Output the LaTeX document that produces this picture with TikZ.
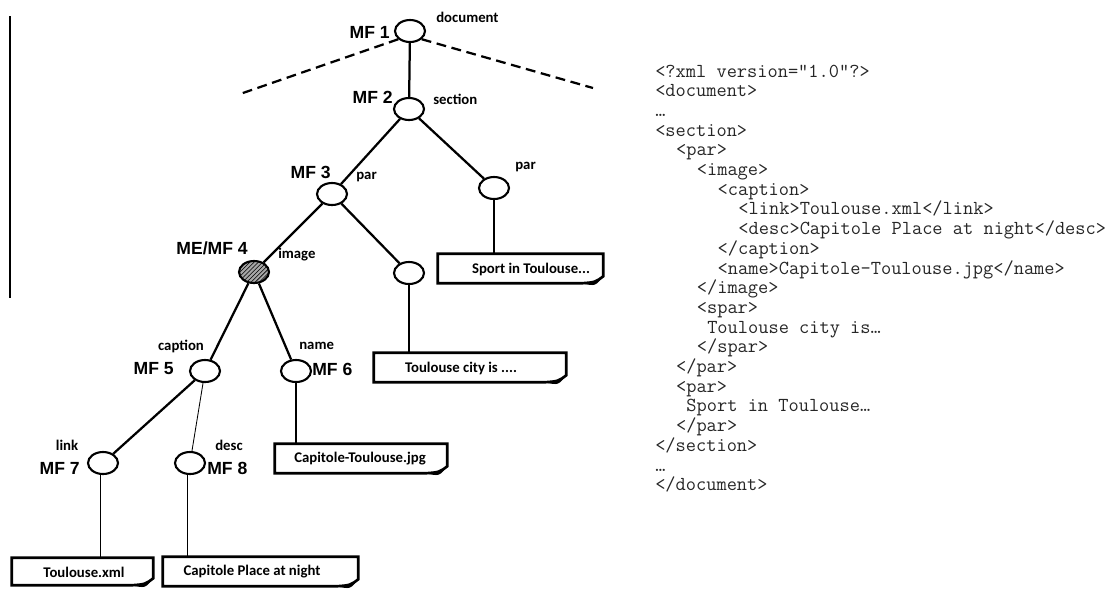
\documentclass[tikz,border=0pt]{standalone}
\usepackage{fontspec}
\newfontfamily\calib{Carlito}
\newfontfamily\arialf{Liberation Sans}
\newfontfamily\limono{Liberation Mono}
\usetikzlibrary{shapes.geometric,patterns,fit}
\begin{document}
\begin{tikzpicture}[x=0.025cm,y=-0.025cm,
  el/.style={ellipse,draw,line width=1.5pt,minimum width=0.75cm,minimum height=0.55cm,inner sep=0},
  mf/.style={font=\arialf\bfseries\fontsize{12.5}{14}\selectfont,inner sep=0},
  lab/.style={font=\calib\bfseries\fontsize{10.5}{12}\selectfont,inner sep=0},
  thk/.style={line width=1.6pt},
  thn/.style={line width=0.6pt},
  boxfit/.style={inner sep=0,draw=none},
  boxline/.style={line width=1.9pt,line join=miter},
  btxt/.style={font=\calib\bfseries\fontsize{10.5}{12}\selectfont,inner sep=0},
  xml/.style={anchor=base west,inner sep=0,font=\ttfamily\fontsize{14.1}{16}\selectfont,text=black!85}
]
\useasboundingbox (0,0) rectangle (1119,588);

% left rule
\coordinate (r1) at (10,16);
\coordinate (r2) at (10,298);
\draw[line width=0.9pt] (r1) -- (r2);

% ellipses
\node[el] (e1) at (410,31) {};
\node[el] (e2) at (409,109) {};
\node[el] (e3) at (332,194) {};
\node[el] (e3r) at (494,188) {};
\node[el,fill=gray!70,postaction={pattern=north east lines}] (e4) at (254,272) {};
\node[el] (e4r) at (409,273) {};
\node[el] (e5) at (205,371) {};
\node[el] (e6) at (296,371) {};
\node[el] (e7) at (103,463) {};
\node[el] (e8) at (190,463) {};

% labels
\node[mf,anchor=east] (m1) at (390,32) {MF 1};
\node[lab,anchor=west] (l1) at (436,17) {document};
\node[mf,anchor=east] (m2) at (393,97) {MF 2};
\node[lab,anchor=west] (l2) at (433,99) {section};
\node[mf,anchor=east] (m3) at (331,172) {MF 3};
\node[lab,anchor=west] (l3) at (356,177) {par};
\node[lab,anchor=west] (l3r) at (515,167) {par};
\node[mf,anchor=east] (m4) at (248,248) {ME/MF 4};
\node[lab,anchor=west] (l4) at (278,255) {image};
\node[lab] (l5) at (181,346) {caption};
\node[mf,anchor=east] (m5) at (174,369) {MF 5};
\node[lab,anchor=west] (l6) at (299,346) {name};
\node[mf,anchor=west] (m6) at (312,369) {MF 6};
\node[lab] (l7) at (67,445) {link};
\node[mf,anchor=east] (m7) at (80,468) {MF 7};
\node[lab] (l8) at (229,445) {desc};
\node[mf,anchor=west] (m8) at (207,468) {MF 8};

% text boxes
\node[boxfit,fit={(438,254) (603,283)}] (bs) {};
\node[boxfit,fit={(374,353) (566,382)}] (bc) {};
\node[boxfit,fit={(275,444) (447,473)}] (bj) {};
\node[boxfit,fit={(12,558) (153,585)}] (bx) {};
\node[boxfit,fit={(163,557) (358,586)}] (bn) {};
\foreach \b in {bs,bc,bj,bx,bn}{
  \draw[boxline] (\b.north west) -- (\b.north east) -- ([shift={(0,-7)}]\b.south east)
     .. controls ([shift={(-8,-1)}]\b.south east) .. ([shift={(-22,0)}]\b.south east)
     -- (\b.south west) -- cycle;
  \fill ([shift={(-22,0)}]\b.south east) .. controls ([shift={(-8,3)}]\b.south east) .. ([shift={(0,-7)}]\b.south east)
     .. controls ([shift={(-8,-1)}]\b.south east) .. ([shift={(-22,0)}]\b.south east) -- cycle;
}
\node[btxt] (ts) at (531,269) {Sport in Toulouse...};
\node[btxt] (tc) at (461,368) {Toulouse city is ....};
\node[btxt] (tj) at (360,459) {Capitole-Toulouse.jpg};
\node[btxt] (tx) at (84,572) {Toulouse.xml};
\node[btxt] (tn) at (252,572) {Capitole Place at night};

% connectors
\coordinate (dl) at (240,94);
\coordinate (dr) at (593,88);
\draw[thk,dash pattern=on 7pt off 4pt] (e1.215) -- (dl);
\draw[thk,dash pattern=on 7pt off 4pt] (e1.-35) -- (dr);
\draw[thk] (e1) -- (e2);
\draw[thk] (e2) -- (e3);
\draw[thk] (e2) -- (e3r);
\draw[thk] (e3r.south) -- (e3r.south |- bs.north);
\draw[thk] (e3) -- (e4);
\draw[thk] (e3) -- (e4r);
\draw[thk] (e4r.south) -- (e4r.south |- bc.north);
\draw[thk] (e4) -- (e5);
\draw[thk] (e4) -- (e6);
\draw[thk] (e6.south) -- (e6.south |- bj.north);
\draw[thk] (e5) -- (e7);
\draw[thn] (e5) -- (e8);
\draw[thn] ([xshift=-2pt]e7.south) -- ([xshift=-2pt]e7.south |- bx.north);
\draw[thn] ([xshift=-2pt]e8.south) -- ([xshift=-2pt]e8.south |- bn.north);

% XML listing
\node[xml] (x0) at (655,77) {<?xml version="1.0"?>};
\node[xml] (x1) at (655,96.7) {<document>};
\node[xml] (x2) at (655,116.4) {…};
\node[xml] (x3) at (655,136.1) {<section>};
\node[xml] (x4) at (675.8,155.8) {<par>};
\node[xml] (x5) at (696.6,175.5) {<image>};
\node[xml] (x6) at (717.4,195.2) {<caption>};
\node[xml] (x7) at (738.2,214.9) {<link>Toulouse.xml</link>};
\node[xml] (x8) at (738.2,234.6) {<desc>Capitole Place at night</desc>};
\node[xml] (x9) at (717.4,254.3) {</caption>};
\node[xml] (x10) at (717.4,274) {<name>Capitole-Toulouse.jpg</name>};
\node[xml] (x11) at (696.6,293.7) {</image>};
\node[xml] (x12) at (696.6,313.4) {<spar>};
\node[xml] (x13) at (707,333.1) {Toulouse city is…};
\node[xml] (x14) at (696.6,352.8) {</spar>};
\node[xml] (x15) at (675.8,372.5) {</par>};
\node[xml] (x16) at (675.8,392.2) {<par>};
\node[xml] (x17) at (686.2,411.9) {Sport in Toulouse…};
\node[xml] (x18) at (675.8,431.6) {</par>};
\node[xml] (x19) at (655,451.3) {</section>};
\node[xml] (x20) at (655,471) {…};
\node[xml] (x21) at (655,490.7) {</document>};
\end{tikzpicture}
\end{document}
